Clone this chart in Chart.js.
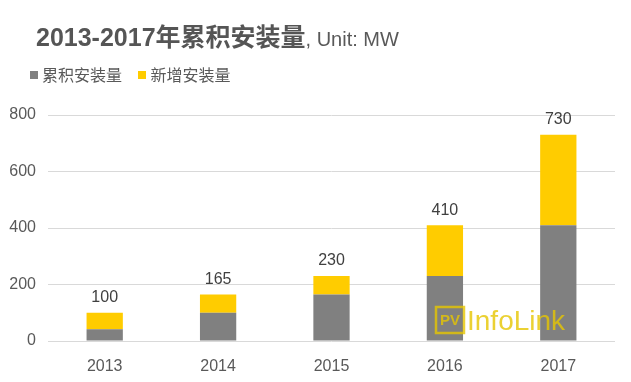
<!DOCTYPE html>
<html>
<head>
<meta charset="utf-8">
<script src="https://cdn.jsdelivr.net/npm/chart.js@4"></script>
<style>
  html, body { margin: 0; padding: 0; background: #fff; }
  #wrap { position: relative; width: 631px; height: 382px; overflow: hidden; font-family: "Liberation Sans", "Noto Sans CJK SC", sans-serif; color: #595959; }
  #title { position: absolute; left: 36px; top: 17px; white-space: nowrap; }
  #title b { font-size: 25px; font-weight: bold; color: #555; }
  #title span { font-size: 20px; color: #595959; }
  #legend { position: absolute; left: 30px; top: 62px; font-size: 16px; white-space: nowrap; }
  #legend i { display: inline-block; width: 8px; height: 8px; margin-right: 4px; vertical-align: 2px; }
  #legend .item { margin-right: 12px; }
  canvas { position: absolute; left: 0; top: 0; }
</style>
</head>
<body>
<div id="wrap">
  <canvas id="myChart" width="631" height="382"></canvas>
  <div id="title"><b>2013-2017年累积安装量</b><span>, Unit: MW</span></div>
  <div id="legend">
    <span class="item"><i style="background:#808080"></i>累积安装量</span>
    <span class="item"><i style="background:#ffcc00"></i>新增安装量</span>
  </div>
</div>
<script>
// chart data
const years = ["2013", "2014", "2015", "2016", "2017"];
const cumulative = [42, 100, 165, 230, 410];   // 累积安装量 (previous total)
const added = [58, 65, 65, 180, 320];          // 新增安装量
const totals = [100, 165, 230, 410, 730];      // labels above the bars
const yTicks = [0, 200, 400, 600, 800];

// draws total value above each stacked bar
const totalLabels = {
  id: "totalLabels",
  afterDatasetsDraw(chart) {
    const ctx = chart.ctx;
    const meta = chart.getDatasetMeta(1);
    ctx.save();
    ctx.font = '16px "Liberation Sans", sans-serif';
    ctx.fillStyle = "#404040";
    ctx.textAlign = "center";
    ctx.textBaseline = "bottom";
    meta.data.forEach((bar, i) => {
      ctx.fillText(String(totals[i]), bar.x, bar.y - 7);
    });
    ctx.restore();
  }
};

// faint PV InfoLink watermark
const watermark = {
  id: "watermark",
  afterDraw(chart) {
    const ctx = chart.ctx;
    ctx.save();
    ctx.globalAlpha = 0.8;
    ctx.strokeStyle = "#e6c600";
    ctx.fillStyle = "#e6c600";
    ctx.lineWidth = 2.5;
    ctx.strokeRect(436, 307, 28, 26);
    ctx.font = 'bold 15px "Liberation Sans", sans-serif';
    ctx.textAlign = "center";
    ctx.textBaseline = "middle";
    ctx.fillText("PV", 450, 321);
    ctx.font = '28px "Liberation Sans", sans-serif';
    ctx.textAlign = "left";
    ctx.fillText("InfoLink", 467, 322);
    ctx.restore();
  }
};

const ctx = document.getElementById("myChart").getContext("2d");
new Chart(ctx, {
  type: "bar",
  data: {
    labels: years,
    datasets: [
      {
        label: "累积安装量",
        data: cumulative,
        backgroundColor: "#808080",
        categoryPercentage: 1,
        barPercentage: 0.32
      },
      {
        label: "新增安装量",
        data: added,
        backgroundColor: "#ffcc00",
        categoryPercentage: 1,
        barPercentage: 0.32
      }
    ]
  },
  options: {
    responsive: false,
    animation: false,
    layout: { padding: { top: 115, right: 16, left: 0, bottom: 0 } },
    scales: {
      x: {
        stacked: true,
        grid: { display: false },
        border: { display: false },
        ticks: {
          color: "#595959",
          padding: 8,
          font: { size: 16, family: '"Liberation Sans", sans-serif' }
        },
        afterFit(scale) { scale.height = 41; }
      },
      y: {
        stacked: true,
        min: 0,
        max: 800,
        grid: { color: "#d9d9d9", drawTicks: false },
        border: { display: false },
        afterBuildTicks(scale) { scale.ticks = yTicks.map(v => ({ value: v })); },
        ticks: {
          color: "#595959",
          padding: 12,
          font: { size: 16, family: '"Liberation Sans", sans-serif' }
        },
        afterFit(scale) { scale.width = 48; }
      }
    },
    plugins: {
      legend: { display: false },
      tooltip: { enabled: false }
    }
  },
  plugins: [totalLabels, watermark]
});
</script>
</body>
</html>
